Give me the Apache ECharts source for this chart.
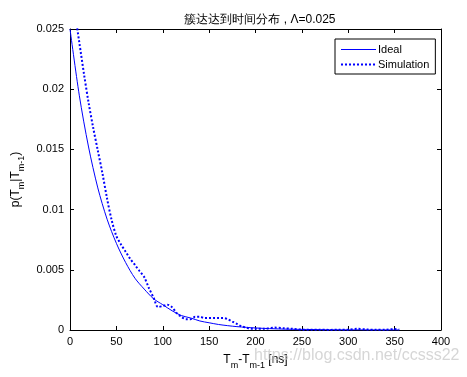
<!DOCTYPE html>
<html><head><meta charset="utf-8">
<script src="https://cdn.jsdelivr.net/npm/echarts@6/dist/echarts.min.js"></script>
<style>html,body{margin:0;padding:0;background:#fff}#c{width:467px;height:377px}</style>
</head><body><div id="c"></div>
<script>
const titleText = '簇达达到时间分布 , Λ=0.025';
const xTicks = [0, 50, 100, 150, 200, 250, 300, 350, 400];
const yTicks = [0, 0.005, 0.01, 0.015, 0.02, 0.025];
const idealT = [0,10,20,30,40,50,60,70,80,90,100,110,120,130,140,150,160,170,180,190,200,220,240,260,280,300,330,355];
const idealV = [0.025,0.0195,0.0152,0.0118,0.0092,0.0072,0.0056,0.0043,0.0034,0.0026,0.0021,0.0016,0.0012,0.001,0.00075,0.0006,0.00046,0.00036,0.00028,0.00022,0.00017,0.0001,0.00006,0.00004,0.00002,0.00001,0.000006,0.000003];
const simT = [0,5,10,15,20,25,30,35,40,45,50,55,60,65,70,75,80,85,90,95,100,105,110,115,120,125,130,135,140,145,150,155,160,165,170,175,180,185,190,195,200,210,220,230,240,250,260,270,280,290,300,310,320,330,340,350,355];
const simV = [0.029,0.0265,0.0239,0.0213,0.0189,0.0168,0.0149,0.0130,0.0109,0.0091,0.0078,0.0071,0.0065,0.0059,0.0054,0.0049,0.0044,0.0035,0.0027,0.0019,0.0020,0.0021,0.0019,0.0014,0.0011,0.0009,0.0009,0.0011,0.0011,0.0010,0.0010,0.0010,0.0010,0.0010,0.0009,0.0007,0.0005,0.0003,0.0002,0.0001,0.0001,0.0001,0.0002,0.00015,0.0001,0.00003,0.00002,0.00002,0.00001,0.00002,0.00003,0.0001,0.00004,0.00002,0.00002,0.00008,0.00003];

const font = '"Liberation Sans", Arial, sans-serif';
const chart = echarts.init(document.getElementById('c'), null, {renderer:'canvas'});
const tickStyle = {show:true, inside:true, length:4, lineStyle:{color:'#000', width:1}};
const lineAx = {show:true, onZero:false, lineStyle:{color:'#000', width:1}};
const richName = {n:{fontFamily:font,fontSize:12,color:'#000',verticalAlign:'top'},
  s:{fontFamily:font,fontSize:9,color:'#000',padding:[7,0,0,0],verticalAlign:'top'}};
chart.setOption({
  animation:false,
  backgroundColor:'#fff',
  color:['#0000ff','#0000ff'],
  title:{text:titleText, left:255, top:9, textAlign:'center',
    textStyle:{fontFamily:font, fontSize:12, fontWeight:'normal', color:'#000'}},
  grid:{left:70, right:26, top:29, bottom:47},
  legend:{orient:'vertical', left:335, top:39, padding:[5,6,4,5], itemGap:4,
    itemWidth:35, itemHeight:10, borderColor:'#000', borderWidth:1, backgroundColor:'#fff',
    itemStyle:{opacity:0},
    textStyle:{fontFamily:font, fontSize:11, color:'#000', padding:[0,0,0,-3]},
    data:[
      {name:'Ideal', lineStyle:{width:1.2, color:'#0000ff', type:'solid'}},
      {name:'Simulation', lineStyle:{width:2, color:'#0000ff', type:[2,2]}}
    ]},
  xAxis:[
    {type:'value', min:0, max:400, interval:50, position:'bottom',
     axisLine:lineAx, axisTick:tickStyle, splitLine:{show:false},
     axisLabel:{fontFamily:font, fontSize:11, color:'#000', margin:6,
       formatter:v=>xTicks.includes(v)?String(v):''},
     name:'{n|T}{s|m}{n|-T}{s|m-1}{n| [ns]}', nameLocation:'middle', nameGap:24,
     nameTextStyle:{rich:richName}},
    {type:'value', min:0, max:400, interval:50, position:'top',
     axisLine:lineAx, axisTick:tickStyle, axisLabel:{show:false}, splitLine:{show:false}}
  ],
  yAxis:[
    {type:'value', min:0, max:0.025, interval:0.005, position:'left',
     axisLine:lineAx, axisTick:tickStyle, splitLine:{show:false},
     axisLabel:{fontFamily:font, fontSize:11, color:'#000', margin:6,
       formatter:v=>{const f=yTicks.find(t=>Math.abs(t-v)<1e-9);return f===undefined?'':String(f);}},
     name:'{n|p(T}{s|m}{n||T}{s|m-1}{n|)}', nameLocation:'middle', nameGap:40, nameRotate:90,
     nameTextStyle:{rich:richName}},
    {type:'value', min:0, max:0.025, interval:0.005, position:'right',
     axisLine:lineAx, axisTick:tickStyle, axisLabel:{show:false}, splitLine:{show:false}}
  ],
  graphic:[{type:'text', left:254, top:348, z:100,
    style:{text:'https://blog.csdn.net/ccsss22', fill:'rgba(200,200,200,0.75)', font:'16px '+font}}],
  series:[
    {name:'Ideal', type:'line', data:idealT.map((t,i)=>[t,idealV[i]]), showSymbol:false, symbol:'none',
     smooth:0.3, clip:true, lineStyle:{color:'#0000ff', width:1}, itemStyle:{color:'#0000ff'}},
    {name:'Simulation', type:'line', data:simT.map((t,i)=>[t,simV[i]]), showSymbol:false, symbol:'none',
     smooth:0.3, clip:true, lineStyle:{color:'#0000ff', width:2, type:[2,2]}, itemStyle:{color:'#0000ff'}}
  ]
});
</script></body></html>
